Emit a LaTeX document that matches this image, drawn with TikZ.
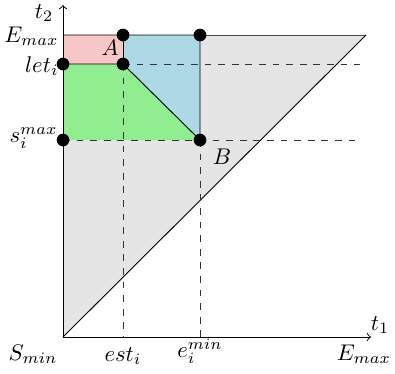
\documentclass[tikz,border=0pt]{standalone}
\begin{document}
\begin{tikzpicture}[x=0.0155cm,y=-0.0155cm,
  dot/.style={circle,fill=black,inner sep=0pt,minimum size=5.6pt},
  dline/.style={dashed,black!80},
  lbl/.style={inner sep=0pt}]
\useasboundingbox (0,0) rectangle (395,373);
\definecolor{pinkc}{RGB}{247,199,199}
\definecolor{bluec}{RGB}{173,216,230}
\definecolor{greenc}{RGB}{144,238,144}
\definecolor{grayc}{RGB}{229,229,229}
\coordinate (O) at (63,337);
\coordinate (Ytop) at (63,5);
\coordinate (Xend) at (371,337);
\coordinate (TL) at (63,35);
\coordinate (TR) at (366,35);
\coordinate (A) at (123,64);
\coordinate (A0) at (123,35);
\coordinate (B) at (200,140);
\coordinate (B0) at (200,35);
\coordinate (L) at (63,64);
\coordinate (S) at (63,140);
\coordinate (Ax) at (123,337);
\coordinate (Bx) at (200,337);
\coordinate (Le) at (360,64);
\coordinate (Se) at (360,140);
% gray triangle
\fill[grayc] (O) -- (TL) -- (TR) -- cycle;
\draw[black!70] (B0) -- (TR);
\draw (TR) -- (O);
% coloured regions
\fill[pinkc] (TL) -- (A0) -- (A) -- (L) -- cycle;
\fill[bluec] (A0) -- (B0) -- (B) -- (A) -- cycle;
\fill[greenc] (L) -- (A) -- (B) -- (S) -- cycle;
\draw (TL) -- (B0) -- (B) -- (A) -- (L);
\draw (A0) -- (A);
% dashed guides
\draw[dline] (A) -- (Le);
\draw[dline] (S) -- (Se);
\draw[dline] (A) -- (Ax);
\draw[dline] (B) -- (Bx);
% axes
\draw[->] (O) -- (Xend);
\draw[->] (O) -- (Ytop);
% dots
\foreach \p in {A0,B0,L,A,S,B} \node[dot] at (\p) {};
% labels
\node[lbl] (t2) at (44,13) {$t_2$};
\node[lbl] (t1) at (380,325) {$t_1$};
\node[lbl,anchor=east] (em) at (59,36) {$E_{max}$};
\node[lbl,anchor=east] (let) at (59,66) {$let_i$};
\node[lbl,anchor=east] (smax) at (58,138) {$s_i^{max}$};
\node[lbl] (la) at (110,48) {$A$};
\node[lbl] (lb) at (222,157) {$B$};
\node[lbl] (smin) at (33,354) {$S_{min}$};
\node[lbl] (est) at (123,356) {$est_i$};
\node[lbl] (emin) at (200,351) {$e_i^{min}$};
\node[lbl] (emx) at (364,354) {$E_{max}$};
\end{tikzpicture}
\end{document}
